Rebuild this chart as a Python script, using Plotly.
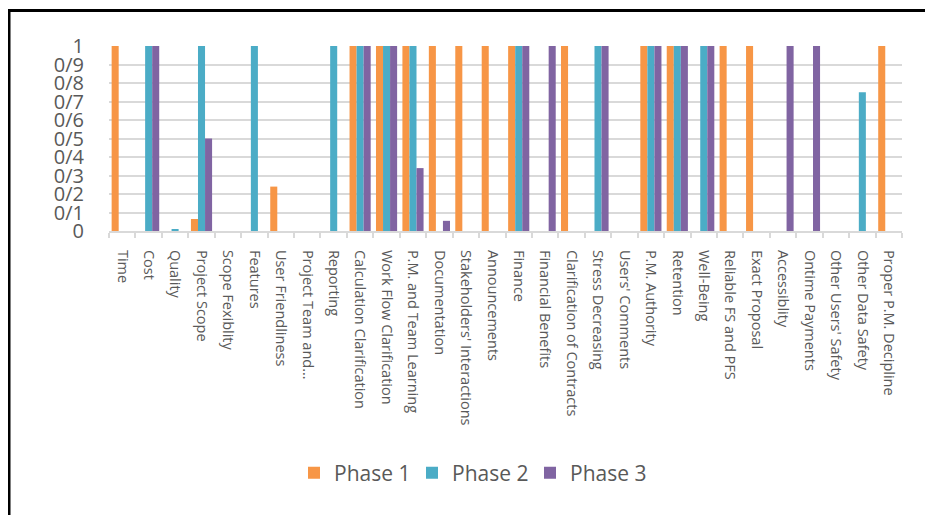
import plotly.graph_objects as go

categories = [
    "Time", "Cost", "Quality", "Project Scope", "Scope Fexiblity", "Features",
    "User Friendliness", "Project Team and...", "Reporting", "Calculation Clarification",
    "Work Flow Clarification", "P.M. and Team Learning", "Documentation",
    "Stakeholders' Interactions", "Announcements", "Finance", "Financial Benefits",
    "Clarification of Contracts", "Stress Decreasing", "Users' Comments",
    "P.M. Authority", "Retention", "Well-Being", "Reliable FS and PFS",
    "Exact Proposal", "Accessiblity", "Ontime Payments", "Other Users' Safety",
    "Other Data Safety", "Proper P.M. Decipline",
]

phase1 = [1, 0, 0, 0.065, 0, 0, 0.24, 0, 0, 1,
          1, 1, 1, 1, 1, 1, 0, 1, 0, 0,
          1, 1, 0, 1, 1, 0, 0, 0, 0, 1]
phase2 = [0, 1, 0.01, 1, 0, 1, 0, 0, 1, 1,
          1, 1, 0, 0, 0, 1, 0, 0, 1, 0,
          1, 1, 1, 0, 0, 0, 0, 0, 0.75, 0]
phase3 = [0, 1, 0, 0.5, 0, 0, 0, 0, 0, 1,
          1, 0.34, 0.055, 0, 0, 1, 1, 0, 1, 0,
          1, 1, 1, 0, 0, 1, 1, 0, 0, 0]

series_names = ["Phase 1", "Phase 2", "Phase 3"]
series_colors = ["#F79646", "#4BACC6", "#8064A2"]

y_tick_vals = [0, 0.1, 0.2, 0.3, 0.4, 0.5, 0.6, 0.7, 0.8, 0.9, 1]
y_tick_text = ["0", "0/1", "0/2", "0/3", "0/4", "0/5", "0/6", "0/7", "0/8", "0/9", "1"]

# page body has an 8px margin; figure sized to fill the window from that offset
OFF = 8
W, H = 933 - OFF, 515 - OFF
L, R, T, B = 109 - OFF, 31, 46 - OFF, 284
pw, ph = W - L - R, H - T - B

fig = go.Figure()
for name, vals, col in zip(series_names, [phase1, phase2, phase3], series_colors):
    fig.add_trace(go.Bar(x=categories, y=vals, name=name, marker_color=col,
                         marker_line_width=0))

def px_to_paper_x(px_page):
    return (px_page - OFF - L) / pw

def px_to_paper_y(py_page):
    return (H - B - (py_page - OFF)) / ph

border = dict(color="black", width=3)
fig.update_layout(
    width=W, height=H,
    margin=dict(l=L, r=R, t=T, b=B, pad=0),
    paper_bgcolor="white", plot_bgcolor="white",
    barmode="group", bargap=0.2, bargroupgap=0,
    font=dict(family="Open Sans, sans-serif", color="#595959"),
    showlegend=True,
    legend=dict(orientation="h", x=px_to_paper_x(294), xanchor="left",
                y=px_to_paper_y(473), yanchor="middle",
                font=dict(size=21, color="#595959"),
                itemwidth=30, entrywidth=73, entrywidthmode="pixels"),
    xaxis=dict(
        tickangle=90, tickfont=dict(size=14.5, color="#595959"),
        showline=True, linecolor="#d9d9d9", linewidth=2,
        ticks="outside", tickson="boundaries", ticklen=5, tickcolor="#d9d9d9", tickwidth=1.5,
        ticklabelstandoff=14, showgrid=False,
    ),
    yaxis=dict(
        range=[0, 1], tickvals=y_tick_vals, ticktext=y_tick_text,
        tickfont=dict(size=20, color="#595959"),
        showgrid=True, gridcolor="#d9d9d9", gridwidth=1.5,
        zeroline=False, showline=False, ticks="", ticklabelstandoff=24,
    ),
    shapes=[
        dict(type="line", xref="paper", yref="paper",
             x0=px_to_paper_x(9), x1=px_to_paper_x(9),
             y0=px_to_paper_y(540), y1=px_to_paper_y(9),
             line=border, layer="above"),
        dict(type="line", xref="paper", yref="paper",
             x0=px_to_paper_x(7.5), x1=px_to_paper_x(940),
             y0=px_to_paper_y(10.5), y1=px_to_paper_y(10.5),
             line=border, layer="above"),
    ],
)

fig.write_html("out.html")
